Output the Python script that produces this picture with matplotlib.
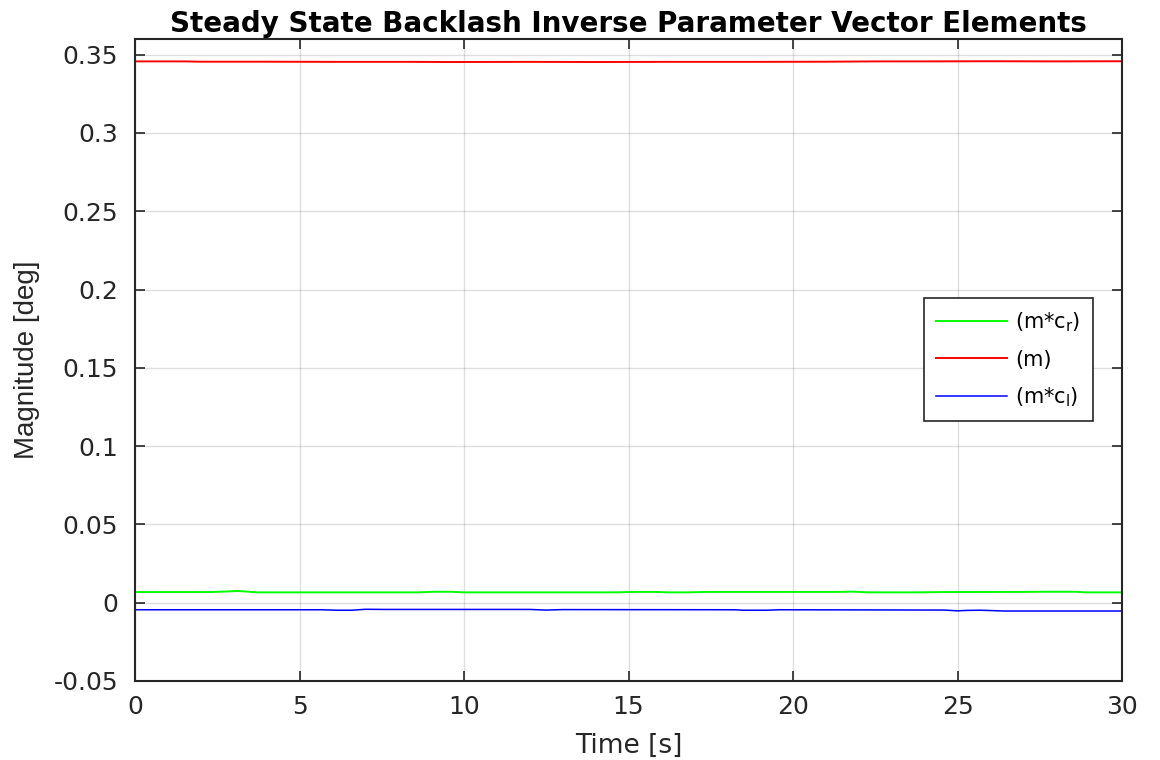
import numpy as np
import matplotlib.pyplot as plt

plt.rcParams['font.family'] = ['DejaVu Sans']
plt.rcParams['mathtext.fontset'] = 'dejavusans'

# values (time in s, magnitude in deg)
t_green = [0, 2.3, 2.8, 3.1, 3.4, 3.7, 8.6, 9.1, 9.6, 10.0, 14.6, 15.0, 15.3, 15.8, 16.2, 16.8, 17.4,
           21.4, 21.8, 22.3, 23.8, 24.6, 27.0, 27.5, 28.6, 28.9, 30]
v_green = [0.0068, 0.0068, 0.0072, 0.0075, 0.0071, 0.0066, 0.0066, 0.0070, 0.0070, 0.0066, 0.0066,
           0.0068, 0.0069, 0.0069, 0.0066, 0.0066, 0.0069, 0.0069, 0.0071, 0.0066, 0.0066, 0.0068,
           0.0069, 0.0070, 0.0070, 0.0066, 0.0066]

t_red = [0, 1.5, 2.0, 4.0, 6.0, 8.5, 9.5, 12.0, 14.0, 16.0, 19.0, 21.0, 22.5, 24.0, 26.0, 28.0, 30]
v_red = [0.3457, 0.3457, 0.3455, 0.3455, 0.3454, 0.3454, 0.3453, 0.3454, 0.3453, 0.3454, 0.3454,
         0.3455, 0.3457, 0.3457, 0.3458, 0.3457, 0.3458]

t_blue = [0, 5.7, 6.1, 6.6, 7.0, 7.6, 12.0, 12.5, 13.0, 18.2, 18.5, 19.2, 19.6, 24.6, 25.0, 25.3,
          25.7, 26.0, 26.4, 30]
v_blue = [-0.0045, -0.0045, -0.0048, -0.0048, -0.0042, -0.0043, -0.0043, -0.0047, -0.0044, -0.0045,
          -0.0048, -0.0048, -0.0045, -0.0047, -0.0052, -0.0049, -0.0048, -0.0050, -0.0053, -0.0053]

yticklabels = ['-0.05', '0', '0.05', '0.1', '0.15', '0.2', '0.25', '0.3', '0.35']

fig = plt.figure(figsize=(11.6, 7.6), dpi=100)
ax = fig.add_axes([135 / 1160, 79 / 760, 987 / 1160, 642 / 760])

ax.plot(t_green, v_green, color='#00ff00', lw=1.4, label='(m*c$_\\mathrm{r}$)')
ax.plot(t_red, v_red, color='#ff0000', lw=1.4, label='(m)')
ax.plot(t_blue, v_blue, color='#0000ff', lw=1.1, label='(m*c$_\\mathrm{l}$)')

ax.set_xlim(0, 30)
ax.set_ylim(-0.05, 0.36)
ax.set_xticks(np.arange(0, 31, 5))
ax.set_yticks(np.arange(-0.05, 0.351, 0.05))
ax.set_yticklabels(yticklabels)
ax.grid(True, color='#262626', alpha=0.15, lw=1)
ax.tick_params(direction='in', top=True, right=True, length=7, width=1.2,
               labelsize=18, colors='#262626', labelcolor='#262626')
ax.tick_params(axis='x', pad=10)
ax.tick_params(axis='y', pad=12)
for s in ax.spines.values():
    s.set_linewidth(1.5)
    s.set_color('#262626')

ax.set_xlabel('Time [s]', fontsize=19, color='#262626', labelpad=10)
ax.set_ylabel('Magnitude [deg]', fontsize=20, color='#262626', labelpad=10,
              family=['Liberation Sans Narrow', 'Liberation Sans'])
ax.set_title('Steady State Backlash Inverse Parameter Vector Elements',
             fontsize=20, fontweight='bold', pad=5)

leg = ax.legend(loc='upper right', bbox_to_anchor=(0.9706, 0.5966), borderaxespad=0,
                fontsize=15, fancybox=False, framealpha=1, edgecolor='#262626',
                handlelength=3.4, borderpad=0.6, labelspacing=0.75, handletextpad=0.4)
leg.get_frame().set_linewidth(1.2)

plt.savefig('out.png')
